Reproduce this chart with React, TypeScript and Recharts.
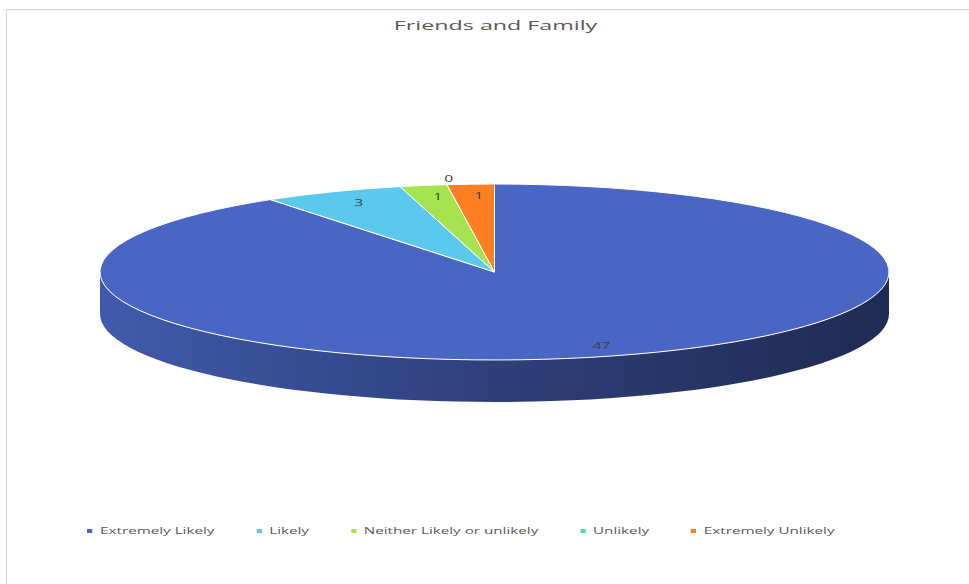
import React from 'react';
import { PieChart, Pie, Cell, Legend } from 'recharts';

const chartTitle = 'Friends and Family';
const categories = ['Extremely Likely', 'Likely', 'Neither Likely or unlikely', 'Unlikely', 'Extremely Unlikely'];
const responses = [47, 3, 1, 0, 1];
const colors = ['#4A66C4', '#5BC8EE', '#A5E351', '#5CD6B1', '#FF7F22'];

const data = categories.map((name, i) => ({ name, value: responses[i] }));

const SX = 1.75; // horizontal stretch of the original picture
const TILT = 0.223; // ry / rx of the top face
const DEPTH = 42; // thickness of the 3D disc
const FONT = '"Open Sans", sans-serif';

const pt = (cx: number, cy: number, rx: number, ry: number, a: number) => {
  const r = (a * Math.PI) / 180;
  return [cx + rx * Math.cos(r), cy - ry * Math.sin(r)];
};

const shade = (hex: string, f: number) => {
  const n = parseInt(hex.slice(1), 16);
  const r = Math.round(((n >> 16) & 255) * f);
  const g = Math.round(((n >> 8) & 255) * f);
  const b = Math.round((n & 255) * f);
  return `rgb(${r},${g},${b})`;
};

const renderSlice = (props: any) => {
  const { cx, cy, outerRadius, startAngle, endAngle, fill, index } = props;
  const rx = outerRadius;
  const ry = outerRadius * TILT;
  const lo = Math.min(startAngle, endAngle);
  const hi = Math.max(startAngle, endAngle);
  const sides: React.ReactNode[] = [];
  const gid = `side-grad-${index}`;
  for (let k = -2; k <= 1; k++) {
    const a = Math.max(lo, -180 + 360 * k);
    const b = Math.min(hi, 360 * k);
    if (b - a > 0.01) {
      const [ax, ay] = pt(cx, cy, rx, ry, a);
      const [bx, by] = pt(cx, cy, rx, ry, b);
      const d = `M${ax},${ay} A${rx},${ry} 0 0 0 ${bx},${by} L${bx},${by + DEPTH} A${rx},${ry} 0 0 1 ${ax},${ay + DEPTH} Z`;
      sides.push(<path key={k} d={d} fill={`url(#${gid})`} stroke="none" />);
    }
  }
  let top: React.ReactNode = null;
  if (hi - lo > 1e-6) {
    const [sx, sy] = pt(cx, cy, rx, ry, startAngle);
    const [ex, ey] = pt(cx, cy, rx, ry, endAngle);
    const sweep = startAngle > endAngle ? 1 : 0;
    const large = hi - lo > 180 ? 1 : 0;
    const d = `M${cx},${cy} L${sx},${sy} A${rx},${ry} 0 ${large} ${sweep} ${ex},${ey} Z`;
    top = <path d={d} fill={fill} stroke="#ffffff" strokeWidth={1} strokeLinejoin="round" />;
  }
  return (
    <g>
      <defs>
        <linearGradient id={gid} gradientUnits="userSpaceOnUse" x1={cx - rx} y1={0} x2={cx + rx} y2={0}>
          <stop offset="0" stopColor={shade(fill, 0.88)} />
          <stop offset="0.5" stopColor={shade(fill, 0.62)} />
          <stop offset="1" stopColor={shade(fill, 0.42)} />
        </linearGradient>
      </defs>
      {sides}
      {top}
    </g>
  );
};

const renderLabel = (props: any) => {
  const { cx, cy, midAngle, outerRadius, value, index } = props;
  const f = value === 0 ? 1.07 : 0.87;
  const [x, y] = pt(cx, cy, outerRadius * f, outerRadius * TILT * f, midAngle);
  return (
    <text
      key={`lbl-${index}`}
      transform={`translate(${x + 5},${y}) scale(${SX},1)`}
      x={0}
      y={0}
      textAnchor="middle"
      dominantBaseline="central"
      fontFamily={FONT}
      fontSize={9}
      fill="#404040"
    >
      {value}
    </text>
  );
};

const renderLegend = () => (
  <div
    style={{
      display: 'flex',
      alignItems: 'center',
      transform: `scaleX(${SX})`,
      transformOrigin: '0 50%',
      fontFamily: FONT,
      fontSize: 8.7,
      color: '#595959',
      whiteSpace: 'nowrap',
      lineHeight: '14px',
    }}
  >
    {categories.map((c, i) => (
      <div key={c} style={{ display: 'flex', alignItems: 'center', marginRight: i < categories.length - 1 ? 23.8 : 0 }}>
        <span style={{ display: 'inline-block', width: 2.9, height: 4, background: colors[i], marginRight: 4.6 }} />
        <span>{c}</span>
      </div>
    ))}
  </div>
);

export default function App() {
  return (
    <div style={{ position: 'absolute', left: 0, top: 0, width: 969, height: 584, background: '#ffffff', overflow: 'hidden' }}>
      <div
        style={{
          position: 'absolute',
          left: 6,
          top: 9,
          width: 1000,
          height: 600,
          border: '1px solid #d4d4d4',
          borderRightWidth: 0,
          borderBottomWidth: 0,
        }}
      />
      <div style={{ position: 'absolute', left: 0, top: 0 }}>
        <PieChart width={969} height={584} margin={{ top: 0, right: 0, bottom: 0, left: 0 }}>
          <text
            transform={`translate(495.5,30) scale(${SX},1)`}
            x={0}
            y={0}
            textAnchor="middle"
            fontFamily={FONT}
            fontSize={13.3}
            fill="#595959"
          >
            {chartTitle}
          </text>
          <Pie
            data={data}
            dataKey="value"
            nameKey="name"
            cx={494.5}
            cy={272}
            outerRadius={394.5}
            startAngle={90}
            endAngle={-270}
            isAnimationActive={false}
            shape={renderSlice}
            activeShape={renderSlice}
            inactiveShape={renderSlice}
            label={renderLabel}
            labelLine={false}
          >
            {data.map((d, i) => (
              <Cell key={d.name} fill={colors[i]} />
            ))}
          </Pie>
          <Legend content={renderLegend} wrapperStyle={{ left: 87, top: 524, width: 'auto', height: 14 }} />
        </PieChart>
      </div>
    </div>
  );
}
